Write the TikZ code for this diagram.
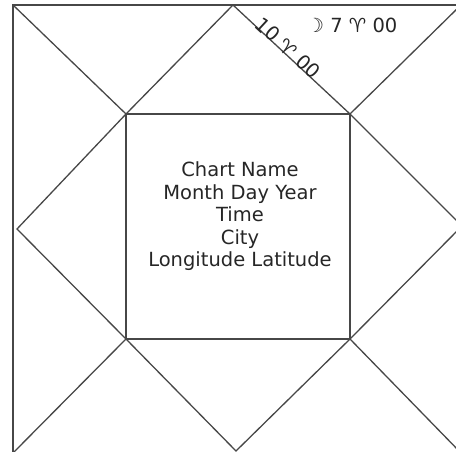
\documentclass[tikz,border=0pt]{standalone}
\usepackage{fontspec}
\setmainfont{DejaVu Sans}
\usetikzlibrary{calc}

\begin{document}
\begin{tikzpicture}[x=1pt,y=-1pt,
  chartline/.style={draw=black!72, line width=1.3pt, line join=miter},
  infotext/.style={font=\fontsize{19.5}{22.5}\selectfont, text=black!85, align=center, inner sep=0pt},
  signtext/.style={font=\fontsize{19.5}{20}\selectfont, text=black!85, inner sep=0pt}]
  \useasboundingbox (0,0) rectangle (456,452);
  \clip (0,0) rectangle (456,452);
  % outer square corners
  \coordinate (otl) at (13,5);
  \coordinate (otr) at (461,5);
  \coordinate (obr) at (461,453);
  \coordinate (obl) at (13,453);
  % mid points of the outer edges
  \coordinate (mt) at (233,5);
  \coordinate (mr) at (462,226);
  \coordinate (mb) at (236,451);
  \coordinate (ml) at (17,229);
  % inner square corners
  \coordinate (itl) at (126,114);
  \coordinate (itr) at (350,114);
  \coordinate (ibr) at (350,339);
  \coordinate (ibl) at (126,339);
  % outer frame and inner box
  \draw[chartline] (otl) -- (otr) -- (obr) -- (obl) -- cycle;
  \draw[chartline] (itl) -- (itr) -- (ibr) -- (ibl) -- cycle;
  % diagonals, outer corner to inner corner
  \draw[chartline] (otl) -- (itl);
  \draw[chartline] (otr) -- (itr);
  \draw[chartline] (obr) -- (ibr);
  \draw[chartline] (obl) -- (ibl);
  % diamond through the mid points
  \draw[chartline] (mt) -- (itr) -- (mr) -- (ibr) -- (mb) -- (ibl) -- (ml) -- (itl) -- cycle;
  % chart details (base = last line)
  \node[infotext, anchor=base] (info) at (240,266.7)
    {Chart Name\\Month Day Year\\Time\\City\\Longitude Latitude};
  \node[signtext, anchor=base] (moon) at (352,33) {☽ 7 ♈ 00};
  \node[signtext, rotate=-42.7] (cusp) at (288,48) {10 ♈ 00};
\end{tikzpicture}
\end{document}
